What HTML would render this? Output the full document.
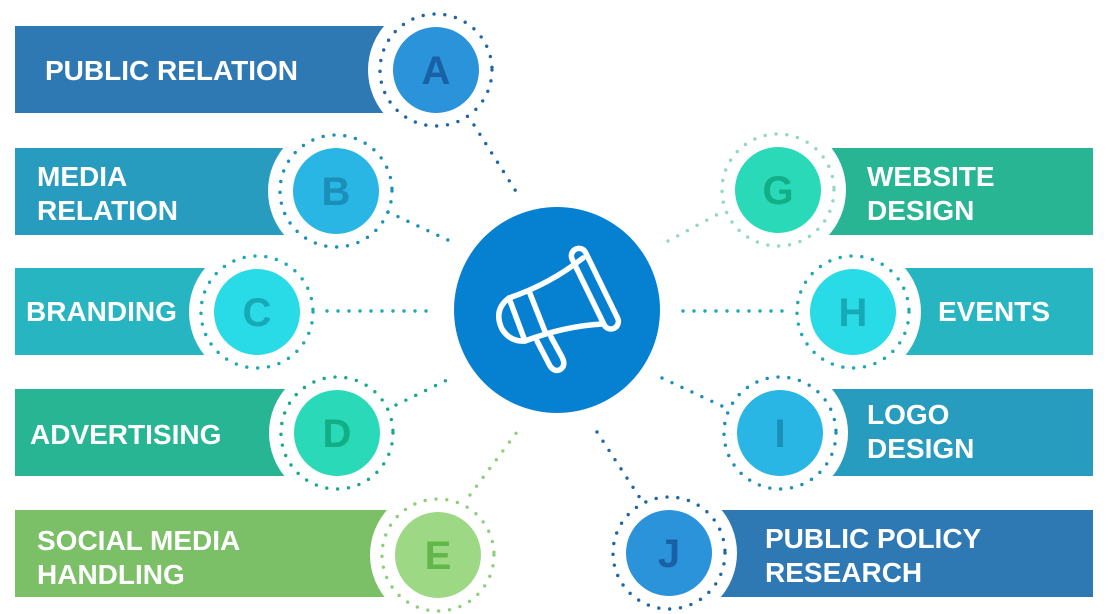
<!DOCTYPE html>
<html><head><meta charset="utf-8"><style>
html,body{margin:0;padding:0;background:#fff;}
svg{display:block;}
text{font-family:"Liberation Sans",Arial,sans-serif;font-weight:bold;}
</style></head><body>
<svg width="1111" height="614" viewBox="0 0 1111 614" xmlns="http://www.w3.org/2000/svg">
<!-- bars -->
<rect x="15" y="26" width="421" height="87" fill="#2e78b3"/>
<rect x="15" y="148" width="321" height="87" fill="#279cbf"/>
<rect x="15" y="268" width="242" height="87" fill="#27b5c1"/>
<rect x="15" y="389" width="322" height="87" fill="#27b594"/>
<rect x="15" y="510" width="423" height="87" fill="#7bc067"/>
<rect x="778" y="148" width="315" height="87" fill="#27b594"/>
<rect x="853" y="268" width="240" height="87" fill="#27b5c1"/>
<rect x="780" y="389" width="313" height="87" fill="#279cbf"/>
<rect x="669" y="510" width="424" height="87" fill="#2e78b3"/>
<!-- white cutouts -->
<g fill="#fff">
<circle cx="436" cy="70" r="68"/>
<circle cx="336" cy="191" r="68"/>
<circle cx="257" cy="312" r="68"/>
<circle cx="337" cy="433" r="68"/>
<circle cx="438" cy="555" r="68"/>
<circle cx="778" cy="190" r="68"/>
<circle cx="853" cy="312" r="68"/>
<circle cx="780" cy="433" r="68"/>
<circle cx="669" cy="553" r="68"/>
</g>
<!-- connectors -->
<g fill="none" stroke-width="3.4" stroke-linecap="round" stroke-dasharray="0 11">
<line x1="474" y1="125" x2="517" y2="193" stroke="#1e66a8"/>
<line x1="388" y1="212" x2="450" y2="241" stroke="#1a8fb8"/>
<line x1="327" y1="311" x2="430" y2="311" stroke="#1aa9b5"/>
<line x1="396" y1="405" x2="447" y2="380" stroke="#19a88a"/>
<line x1="470" y1="495" x2="517" y2="432" stroke="#8fcf7a"/>
<line x1="668" y1="241" x2="722" y2="212" stroke="#8fd8c6"/>
<line x1="683" y1="311" x2="793" y2="311" stroke="#1aa9b5"/>
<line x1="662" y1="378" x2="724" y2="407" stroke="#1a8fb8"/>
<line x1="597" y1="432" x2="640" y2="498" stroke="#1e66a8"/>
</g>
<!-- dotted rings -->
<g fill="none" stroke-width="3.4" stroke-linecap="round" stroke-dasharray="0 10.9">
<circle cx="436" cy="70" r="56" stroke="#1e66a8"/>
<circle cx="336" cy="191" r="56" stroke="#1a8fb8"/>
<circle cx="257" cy="312" r="56" stroke="#1aa9b5"/>
<circle cx="337" cy="433" r="56" stroke="#19a88a"/>
<circle cx="438" cy="555" r="56" stroke="#8fcf7a"/>
<circle cx="778" cy="190" r="56" stroke="#8fd8c6"/>
<circle cx="853" cy="312" r="56" stroke="#1aa9b5"/>
<circle cx="780" cy="433" r="56" stroke="#1a8fb8"/>
<circle cx="669" cy="553" r="56" stroke="#1e66a8"/>
</g>
<!-- letter circles -->
<circle cx="436" cy="70" r="43" fill="#2a93d9"/>
<circle cx="336" cy="191" r="43" fill="#29b6e4"/>
<circle cx="257" cy="312" r="43" fill="#28dbe6"/>
<circle cx="337" cy="433" r="43" fill="#29d9b7"/>
<circle cx="438" cy="555" r="43" fill="#9dd884"/>
<circle cx="778" cy="190" r="43" fill="#29d9b7"/>
<circle cx="853" cy="312" r="43" fill="#28dbe6"/>
<circle cx="780" cy="433" r="43" fill="#29b6e4"/>
<circle cx="669" cy="553" r="43" fill="#2a93d9"/>
<g font-size="40" text-anchor="middle">
<text x="436" y="84" fill="#1a60a5">A</text>
<text x="336" y="205" fill="#1a8fb8">B</text>
<text x="257" y="326" fill="#16a9b8">C</text>
<text x="337" y="447" fill="#12ae86">D</text>
<text x="438" y="569" fill="#62b64a">E</text>
<text x="778" y="204" fill="#12ae86">G</text>
<text x="853" y="326" fill="#16a9b8">H</text>
<text x="780" y="447" fill="#1a8fb8">I</text>
<text x="669" y="567" fill="#1a60a5">J</text>
</g>
<!-- labels -->
<g font-size="28" fill="#fff">
<text x="45" y="80">PUBLIC RELATION</text>
<text x="37" y="186">MEDIA</text><text x="37" y="220">RELATION</text>
<text x="26" y="321">BRANDING</text>
<text x="30" y="444">ADVERTISING</text>
<text x="37" y="550">SOCIAL MEDIA</text><text x="37" y="584">HANDLING</text>
<text x="867" y="186">WEBSITE</text><text x="867" y="220">DESIGN</text>
<text x="938" y="321">EVENTS</text>
<text x="867" y="424">LOGO</text><text x="867" y="458">DESIGN</text>
<text x="765" y="548">PUBLIC POLICY</text><text x="765" y="582">RESEARCH</text>
</g>
<!-- center -->
<circle cx="557" cy="310" r="103" fill="#0681d2"/>
<g fill="none" stroke="#fff" stroke-width="5.5" stroke-linejoin="round" stroke-linecap="round">
<rect x="587" y="245" width="15" height="88" rx="7.5" transform="rotate(-26 594 288)"/>
<path d="M583 258 Q550 284 509 298 L525 341 Q565 326 602 324"/>
<line x1="529" y1="291" x2="546" y2="334"/>
<path d="M509 298 Q493 310 502 329 Q510 342 525 341"/>
<path d="M537 341 L550 366 Q555 373 561 369 Q566 365 562 357 L551 337"/>
</g>
</svg>
</body></html>
